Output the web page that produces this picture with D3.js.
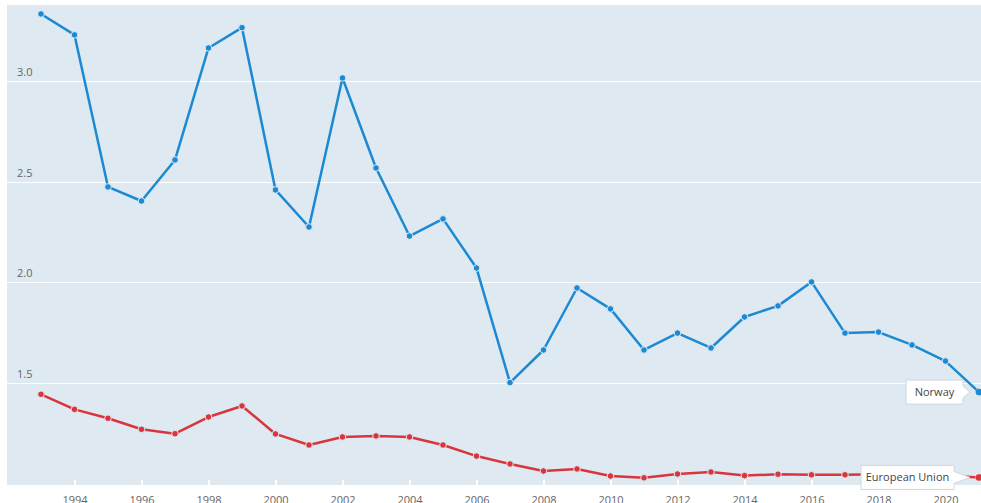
<!DOCTYPE html>
<html><head><meta charset="utf-8">
<script src="https://cdn.jsdelivr.net/npm/d3@7"></script>
<style>html,body{margin:0;padding:0;background:#fff;}svg{display:block;}</style>
</head><body>
<svg id="c" width="981" height="503"></svg>
<script>
const years = d3.range(1993, 2022);
const norway = [3.333,3.229,2.474,2.404,2.608,3.164,3.265,2.459,2.275,3.015,2.568,2.230,2.315,2.071,1.502,1.664,1.972,1.868,1.664,1.748,1.674,1.828,1.883,2.002,1.748,1.753,1.689,1.609,1.455];
const eu = [1.444,1.369,1.325,1.270,1.248,1.331,1.386,1.247,1.192,1.232,1.237,1.232,1.192,1.137,1.098,1.063,1.073,1.038,1.029,1.048,1.058,1.040,1.047,1.044,1.044,1.047,1.047,1.040,1.031];
const yTicks = [1.5, 2.0, 2.5, 3.0];
const xTicks = d3.range(1994, 2021, 2);
const seriesNames = ["Norway", "European Union"];

const svg = d3.select("#c");
const plot = {left: 7, right: 981, top: 5, bottom: 485};
const x = d3.scaleLinear().domain([1993, 2021]).range([41, 979]);
const y = d3.scaleLinear().domain([1.5, 3.0]).range([383, 81]);

svg.append("rect").attr("x", plot.left).attr("y", plot.top)
  .attr("width", plot.right - plot.left).attr("height", plot.bottom - plot.top)
  .attr("fill", "#dfe9f1");

// grid
svg.append("g").selectAll("line").data(yTicks).join("line")
  .attr("x1", plot.left).attr("x2", plot.right)
  .attr("y1", d => Math.round(y(d)) + 0.5).attr("y2", d => Math.round(y(d)) + 0.5)
  .attr("stroke", "#fff").attr("stroke-width", 1);
svg.append("g").selectAll("text").data(yTicks).join("text")
  .attr("x", 17).attr("y", d => y(d) - 5)
  .attr("font-family", "Open Sans, sans-serif").attr("font-size", 11)
  .attr("fill", "#666").text(d => d3.format(".1f")(d));

// x ticks
const xAxis = d3.axisBottom(x).tickValues(xTicks).tickFormat(d3.format("d")).tickSize(5).tickSizeOuter(0);
const gx = svg.append("g").attr("transform", `translate(0,${plot.bottom - 5})`).call(xAxis);
gx.select(".domain").remove();
gx.selectAll(".tick line").attr("stroke", "#fff").attr("stroke-width", 2);
gx.selectAll(".tick text").attr("y", 16).attr("dy", "0.71em")
  .attr("font-family", "Open Sans, sans-serif").attr("font-size", 11).attr("fill", "#666");

const line = d3.line().x((d, i) => x(years[i])).y(d => y(d));
const series = [{name: seriesNames[0], vals: norway, color: "#1b8ad3", right: 963, w: 57},
                {name: seriesNames[1], vals: eu, color: "#d9353c", right: 954, w: 93}];
series.forEach(s => {
  svg.append("path").attr("d", line(s.vals)).attr("fill", "none")
    .attr("stroke", s.color).attr("stroke-width", 2.5).attr("stroke-linejoin", "round");
  svg.append("g").selectAll("circle").data(s.vals).join("circle")
    .attr("cx", (d, i) => x(years[i])).attr("cy", d => y(d)).attr("r", 3.3)
    .attr("fill", s.color).attr("stroke", "#dfe9f1").attr("stroke-width", 1);
});

// end labels
function endLabel(s) {
  const lx = x(2021), ly = y(s.vals[s.vals.length - 1]);
  const g = svg.append("g");
  const w = s.w, bx = s.right - w, bh = 24, by = ly - 12;
  g.append("path").attr("d",
    `M${bx},${by} H${bx + w} V${ly - 6} L${lx - 9},${ly} L${bx + w},${ly + 6} V${by + bh} H${bx} Z`)
    .attr("fill", "#fff").attr("stroke", "#cfd8de").attr("stroke-width", 1);
  g.append("text").attr("x", bx + w / 2).attr("y", ly + 4).attr("text-anchor", "middle")
    .attr("font-family", "Open Sans, sans-serif").attr("font-size", 11).attr("fill", "#444").text(s.name);
}
series.forEach(endLabel);
// redraw last points on top
series.forEach(s => {
  svg.append("circle").attr("cx", x(2021)).attr("cy", y(s.vals[s.vals.length - 1])).attr("r", 3.3)
    .attr("fill", s.color);
});
</script>
</body></html>
